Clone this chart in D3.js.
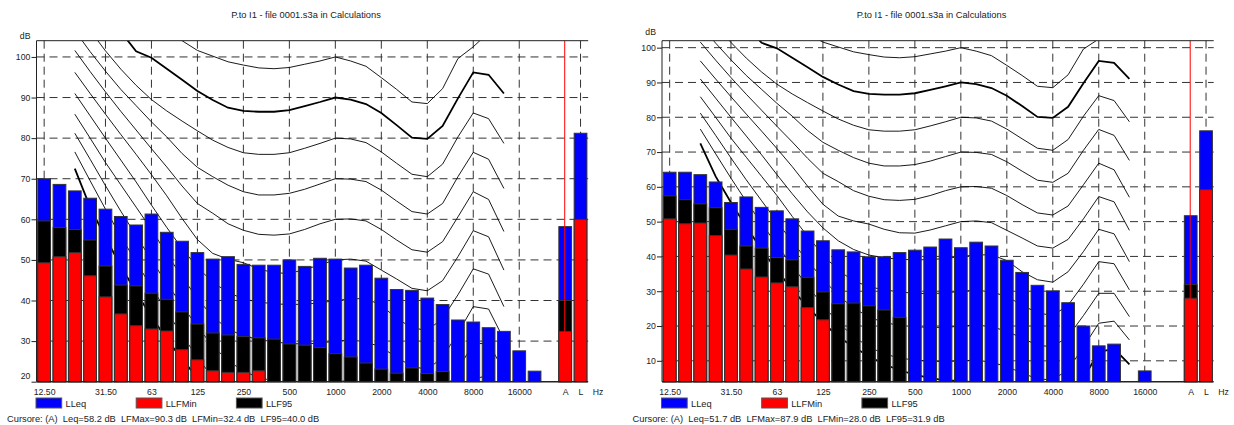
<!DOCTYPE html>
<html lang="it">
<head>
<meta charset="UTF-8">
<title>P.to I1 - file 0001.s3a in Calculations</title>
<script src="https://d3js.org/d3.v7.min.js"></script>
<style>
    body { margin: 0; background: #fff; }
    svg { display: block; }
    text { font-family: "Liberation Sans", Arial, sans-serif; fill: #222; }
</style>
</head>
<body>
<script>
    const width = 1234;
    const height = 425;

    // 1/3 octave bands + global A / Lin
    const bands = ["12.5","16","20","25","31.5","40","50","63","80","100","125","160","200","250","315","400",
        "500","630","800","1000","1250","1600","2000","2500","3150","4000","5000","6300","8000","10000",
        "12500","16000","20000","25000","A","L"];
    const tickBands = ["12.5","31.5","63","125","250","500","1000","2000","4000","8000","16000","A","L"];
    const tickLabels = ["12.50","31.50","63","125","250","500","1000","2000","4000","8000","16000","A","L"];

    const seriesNames = ["LLeq", "LLFMin", "LLF95"];

    // left chart
    const leq1 = [70.0, 68.6, 67.0, 65.2, 62.5, 60.7, 58.6, 61.3, 56.8, 54.6, 51.8, 50.2, 50.8, 48.9, 48.7, 48.7,
        50.0, 48.4, 50.4, 50.2, 48.0, 48.7, 45.5, 42.7, 42.5, 40.6, 39.0, 35.2, 34.7, 33.3,
        32.4, 27.6, 22.6, null, 58.2, 81.2];
    const lf95_1 = [59.6, 58.0, 57.5, 54.9, 48.5, 43.8, 43.6, 41.8, 40.3, 37.2, 34.2, 32.0, 31.5, 31.1, 30.8, 30.5,
        29.3, 29.0, 28.4, 26.9, 26.1, 24.6, 23.1, 22.1, 23.4, 22.0, 22.5, null, null, null,
        null, null, null, null, 40.0, null];
    const lfmin1 = [49.3, 50.8, 51.8, 46.1, 40.9, 36.7, 33.8, 33.0, 32.5, 27.9, 25.4, 22.7, 22.3, 22.3, 22.7, null,
        null, null, null, null, null, null, null, null, null, null, null, null, null, null,
        null, null, null, null, 32.4, 60.0];
    const cursor1 = "Cursore: (A)  Leq=58.2 dB  LFMax=90.3 dB  LFMin=32.4 dB  LF95=40.0 dB";

    // right chart
    const leq2 = [64.2, 64.2, 63.5, 61.4, 55.5, 57.1, 54.1, 53.1, 50.8, 47.3, 44.5, 41.9, 41.3, 39.9, 39.9, 41.1,
        41.8, 42.7, 45.0, 42.5, 44.1, 43.0, 38.9, 35.4, 31.7, 30.1, 26.7, 20.0, 14.3, 14.8,
        null, 7.1, null, null, 51.7, 76.1];
    const lf95_2 = [57.4, 56.3, 55.1, 54.0, 47.8, 43.0, 42.4, 39.7, 39.0, 34.0, 29.8, 26.4, 26.6, 25.8, 24.6, 22.5,
        null, null, null, null, null, null, null, null, null, null, null, null, null, null,
        null, null, null, null, 31.9, null];
    const lfmin2 = [50.8, 49.4, 49.6, 46.0, 40.4, 36.4, 34.1, 32.4, 31.3, 25.3, 21.8, null, null, null, null, null,
        null, null, null, null, null, null, null, null, null, null, null, null, null, null,
        null, null, null, null, 28.0, 59.2];
    const cursor2 = "Cursore: (A)  Leq=51.7 dB  LFMax=87.9 dB  LFMin=28.0 dB  LF95=31.9 dB";

    // equal loudness contours (20 Hz .. 12.5 kHz)
    const isoBands = ["20","25","31.5","40","50","63","80","100","125","160","200","250","315","400","500","630",
        "800","1000","1250","1600","2000","2500","3150","4000","5000","6300","8000","10000","12500"];
    const contourT = [72.5, 63.0, 55.5, 48.5, 42.0, 36.0, 30.5, 25.5, 21.0, 17.0, 14.0, 11.3, 9.0, 7.3, 6.0, 5.0,
        4.4, 4.2, 3.7, 2.6, 1.0, -1.2, -3.6, -3.9, -1.1, 5.0, 12.5, 13.5, 9.0];
    const contour10 = [76.6, 69.5, 62.5, 55.8, 49.5, 43.3, 37.3, 31.5, 26.0, 21.0, 17.0, 14.0, 12.0, 10.8, 10.2, 9.9,
        9.8, 10.0, 10.2, 9.6, 8.3, 6.5, 4.8, 4.5, 7.5, 14.0, 20.8, 21.4, 16.0];
    const contour20 = [81.2, 74.8, 68.3, 62.0, 56.0, 50.0, 44.2, 38.8, 33.5, 28.8, 25.2, 22.6, 21.0, 20.2, 19.8, 19.6,
        19.6, 20.0, 20.3, 19.8, 18.5, 16.5, 14.5, 14.0, 17.0, 23.0, 29.4, 29.4, 22.7];
    const contour30 = [85.9, 80.0, 74.0, 68.5, 63.0, 57.5, 51.5, 45.8, 40.5, 36.0, 33.0, 31.3, 30.4, 29.8, 29.4, 29.3,
        29.5, 30.0, 30.3, 29.8, 28.5, 26.0, 23.8, 23.0, 26.0, 32.0, 38.5, 37.9, 30.4];
    const contour40 = [91.0, 85.5, 80.0, 74.6, 69.2, 63.5, 58.0, 52.8, 48.2, 44.5, 42.0, 40.4, 39.6, 39.2, 39.0, 39.1,
        39.4, 40.0, 40.4, 40.5, 38.8, 35.6, 33.3, 32.6, 35.6, 41.4, 47.8, 46.5, 38.5];
    const contour50 = [96.2, 91.0, 85.9, 80.9, 76.0, 71.0, 65.8, 60.2, 55.0, 51.6, 50.2, 49.3, 47.8, 46.8, 46.7, 47.6,
        48.8, 50.0, 50.2, 49.7, 47.5, 45.3, 43.0, 42.4, 44.9, 50.8, 57.2, 55.7, 47.5];
    const contour60 = [101.6, 96.4, 91.4, 86.6, 82.0, 77.4, 72.9, 68.2, 63.9, 61.5, 58.9, 57.3, 56.3, 56.1, 56.4, 57.5,
        58.9, 60.0, 60.1, 59.6, 57.5, 54.9, 52.5, 51.9, 54.5, 60.6, 66.8, 64.9, 57.0];
    const contour70 = [106.5, 101.3, 96.5, 92.0, 88.0, 84.0, 80.3, 76.2, 72.8, 70.5, 68.4, 66.8, 66.0, 66.0, 66.4, 67.4,
        68.7, 70.0, 69.9, 69.3, 67.2, 64.5, 61.9, 61.3, 63.9, 70.5, 76.5, 74.8, 67.6];
    const contour80 = [112.0, 106.5, 101.5, 97.0, 93.0, 89.5, 86.7, 84.2, 81.8, 79.5, 77.7, 76.4, 76.0, 76.0, 76.4, 77.5,
        78.7, 80.0, 79.8, 78.9, 76.6, 73.8, 71.1, 70.5, 73.6, 80.3, 86.2, 84.8, 78.7];
    const contour90 = [117.0, 114.0, 110.5, 106.2, 101.4, 99.8, 97.1, 94.4, 91.6, 89.4, 87.5, 86.7, 86.5, 86.5, 86.9, 87.9,
        88.9, 90.0, 89.5, 88.4, 86.2, 83.2, 80.1, 79.8, 83.0, 89.8, 96.2, 95.6, 91.0];
    const contour100 = [122.0, 118.0, 115.0, 112.0, 109.5, 107.5, 105.8, 104.0, 101.6, 100.2, 98.8, 98.0, 97.3, 97.1, 97.4, 98.2,
        99.0, 100.0, 99.0, 97.7, 94.9, 92.0, 88.9, 88.5, 92.2, 99.6, 102.5, 106.0, 105.0];
    const contours = [contourT, contour10, contour20, contour30, contour40, contour50,
        contour60, contour70, contour80, contour90, contour100];

    const title = "P.to I1 - file 0001.s3a in Calculations";

    const colors = {leq: "#0000ff", lfmin: "#ff0000", lf95: "#000000"};

    const svg = d3.select("body").append("svg").attr("width", width).attr("height", height);

    const panels = [
        {ox: 0, leq: leq1, lf95: lf95_1, lfmin: lfmin1, yDomain: [20, 104], yTicks: [20,30,40,50,60,70,80,90,100],
            cursor: cursor1, dBy: 39},
        {ox: 625.5, leq: leq2, lf95: lf95_2, lfmin: lfmin2, yDomain: [4, 102], yTicks: [10,20,30,40,50,60,70,80,90,100],
            cursor: cursor2, dBy: 35}
    ];

    panels.forEach((p, k) => drawPanel(p, k));

    function drawPanel(p, k) {
        const left = p.ox + 36.5, right = p.ox + 588.2, top = 40.7, bottom = 381.7;
        const x = d3.scalePoint().domain(bands).range([left, right]).padding(0.5);
        const y = d3.scaleLinear().domain(p.yDomain).range([bottom, top]);
        const bw = x.step() * 0.83;
        const g = svg.append("g");

        g.append("clipPath").attr("id", "clip" + k)
            .append("rect").attr("x", left).attr("y", top)
            .attr("width", right - left).attr("height", bottom - top);

        // grid
        g.selectAll(".hgrid").data(p.yTicks.filter(t => t > p.yDomain[0]))
            .join("line")
            .attr("x1", left).attr("x2", right)
            .attr("y1", d => y(d)).attr("y2", d => y(d))
            .attr("stroke", "#333").attr("stroke-dasharray", "8,5");
        g.selectAll(".vgrid").data(tickBands.filter(b => b !== "A"))
            .join("line")
            .attr("x1", d => x(d)).attr("x2", d => x(d))
            .attr("y1", top).attr("y2", bottom)
            .attr("stroke", "#333").attr("stroke-dasharray", "8,5");

        // loudness contours
        const line = d3.line().x((v, i) => x(isoBands[i])).y(v => y(v));
        g.append("g").attr("clip-path", `url(#clip${k})`)
            .selectAll("path").data(contours).join("path")
            .attr("d", line)
            .attr("fill", "none")
            .attr("stroke", "#000")
            .attr("stroke-width", d => (d === contourT || d === contour90) ? 1.8 : 0.9);

        // bars
        const rows = bands.map((b, i) => ({b: b, leq: p.leq[i], lf95: p.lf95[i], lfmin: p.lfmin[i]}));
        ["leq", "lf95", "lfmin"].forEach(key => {
            g.append("g").selectAll("rect")
                .data(rows.filter(r => r[key] != null && r[key] > p.yDomain[0]))
                .join("rect")
                .attr("x", r => x(r.b) - bw / 2)
                .attr("width", bw)
                .attr("y", r => y(r[key]))
                .attr("height", r => bottom - y(r[key]))
                .attr("fill", colors[key])
                .attr("stroke", "#333")
                .attr("stroke-width", 1);
        });

        // cursor
        g.append("line")
            .attr("x1", x("A") - 0.5).attr("x2", x("A") - 0.5)
            .attr("y1", top).attr("y2", bottom)
            .attr("stroke", "#ff0000").attr("stroke-width", 1);

        // frame
        g.append("line").attr("x1", left).attr("x2", right).attr("y1", top).attr("y2", top)
            .attr("stroke", "#222");
        g.append("line").attr("x1", left).attr("x2", left).attr("y1", top).attr("y2", bottom)
            .attr("stroke", "#222");
        g.append("line").attr("x1", left).attr("x2", right).attr("y1", bottom).attr("y2", bottom)
            .attr("stroke", "#222").attr("stroke-width", 1.6);

        // y axis
        const ya = g.append("g").attr("transform", `translate(${left},0)`)
            .call(d3.axisLeft(y).tickValues(p.yTicks).tickSize(5).tickPadding(1.2));
        ya.select(".domain").remove();
        ya.selectAll("line").attr("stroke", "#222");
        ya.selectAll("text").attr("font-size", "8.7px").attr("fill", "#222")
            .attr("transform", d => y(d) > bottom - 6 ? `translate(0,${bottom - 6 - y(d)})` : null);

        // x axis
        const xa = g.append("g").attr("transform", `translate(0,${bottom})`)
            .call(d3.axisBottom(x).tickValues(tickBands).tickFormat((d, i) => tickLabels[i]).tickSize(0).tickPadding(7.1));
        xa.select(".domain").remove();
        xa.selectAll("text").attr("font-size", "8.7px").attr("fill", "#222");

        g.append("text").attr("x", p.ox + 592.7).attr("y", 395).attr("font-size", "8.7px").text("Hz");
        g.append("text").attr("x", left - 6).attr("y", p.dBy).attr("text-anchor", "end")
            .attr("font-size", "8.7px").text("dB");

        g.append("text").attr("x", p.ox + 306).attr("y", 17.5).attr("text-anchor", "middle")
            .attr("font-size", "9.3px").attr("fill", "#333").text(title);

        // legend
        const legendKeys = ["leq", "lfmin", "lf95"];
        const lg = g.append("g").selectAll("g").data(seriesNames).join("g")
            .attr("transform", (d, i) => `translate(${p.ox + 36 + i * 100.2},398)`);
        lg.append("rect").attr("width", 25.7).attr("height", 10)
            .attr("fill", (d, i) => colors[legendKeys[i]])
            .attr("stroke", "#555");
        lg.append("text").attr("x", 29.5).attr("y", 8.6).attr("font-size", "9.3px").text(d => d);

        g.append("text").attr("x", p.ox + 7).attr("y", 421.5).attr("font-size", "9.3px")
            .style("white-space", "pre").text(p.cursor);
    }
</script>
</body>
</html>
